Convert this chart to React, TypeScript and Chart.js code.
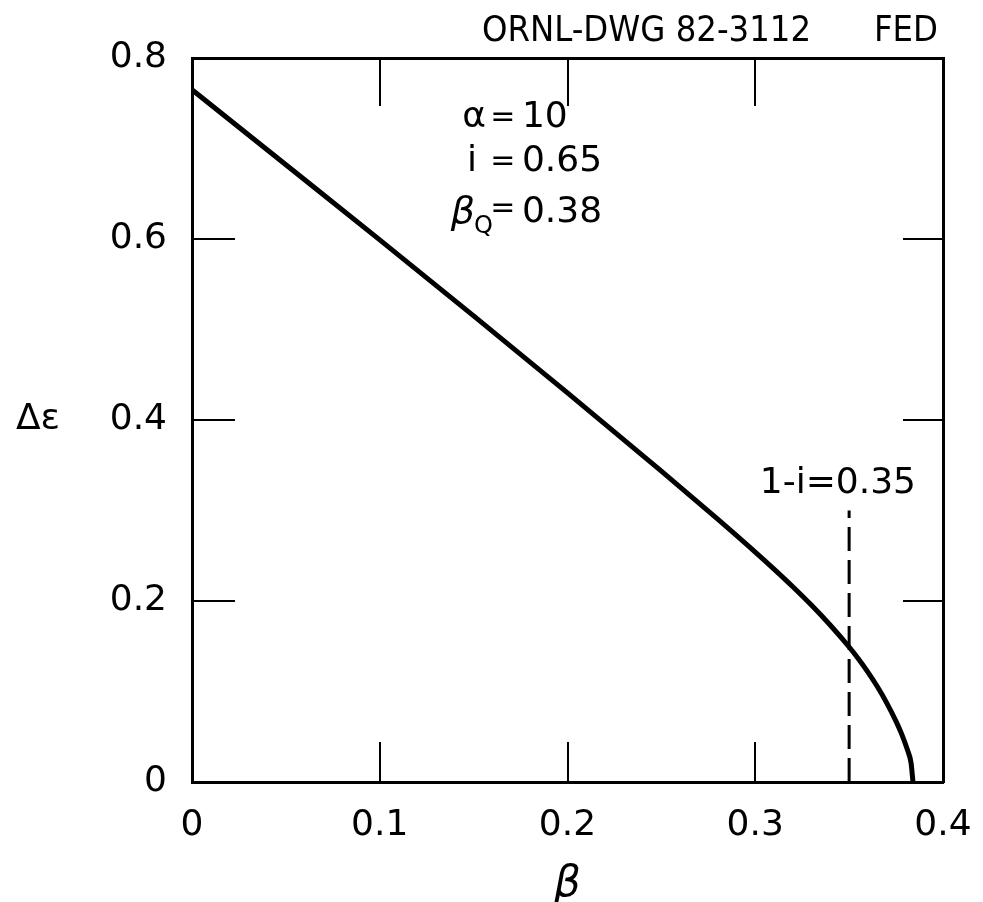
import { useEffect, useRef } from "react";
import { Chart, registerables } from "chart.js";

Chart.register(...registerables);

// ---- data ----
const betaValues = [0, 0.05, 0.1, 0.15, 0.2, 0.25, 0.28, 0.3, 0.31, 0.32, 0.33, 0.34, 0.35, 0.355, 0.36, 0.365, 0.37, 0.375, 0.378, 0.381, 0.383, 0.384];
const deltaEpsValues = [0.765, 0.682, 0.599, 0.515, 0.43, 0.3435, 0.2904, 0.254, 0.2352, 0.2157, 0.1952, 0.1732, 0.1492, 0.136, 0.1215, 0.1055, 0.0875, 0.067, 0.0529, 0.0358, 0.0208, 0];

const markerBeta = [0.35, 0.35];
const markerDeltaEps = [0, 0.3];
const markerLabel = "1-i=0.35";
const markerLabelPos = [0.344, 0.33];

const xTickValues = [0, 0.1, 0.2, 0.3, 0.4];
const xTickLabels = ["0", "0.1", "0.2", "0.3", "0.4"];
const yTickValues = [0, 0.2, 0.4, 0.6, 0.8];
const yTickLabels = ["0", "0.2", "0.4", "0.6", "0.8"];

const paramNames = ["α", "i", "β"];
const paramSubs = ["", "", "Q"];
const paramValues = ["10", "0.65", "0.38"];
const paramRowDeltaEps = [0.734, 0.685, 0.629];
const paramEqualsBeta = 0.1656;

const xTitle = "β";
const yTitle = "Δε";
const drawingNumber = "ORNL-DWG 82-3112";
const drawingTag = "FED";

const FONT = '"DejaVu Sans"';

const textPlugin = {
  id: "textAnnotations",
  afterDraw(chart: any) {
    const { ctx, chartArea } = chart;
    const x = chart.scales.x;
    const y = chart.scales.y;
    ctx.save();
    ctx.fillStyle = "#000";
    ctx.textBaseline = "middle";

    // parameter block
    const eqX = x.getPixelForValue(paramEqualsBeta);
    paramNames.forEach((name, i) => {
      const py = y.getPixelForValue(paramRowDeltaEps[i]);
      ctx.font = `30px ${FONT}`;
      ctx.textAlign = "center";
      ctx.fillText("=", eqX, py + (paramSubs[i] ? -4 : 0));
      ctx.font = `36px ${FONT}`;
      ctx.textAlign = "left";
      ctx.fillText(paramValues[i], eqX + 19, py);
      if (paramSubs[i]) {
        ctx.font = `24px ${FONT}`;
        ctx.textAlign = "right";
        const subRight = eqX - 10;
        ctx.fillText(paramSubs[i], subRight, py + 14);
        const subW = ctx.measureText(paramSubs[i]).width;
        ctx.font = `italic 38px ${FONT}`;
        ctx.fillText(name, subRight - subW + 1, py);
      } else {
        ctx.textAlign = "right";
        ctx.font = `36px ${FONT}`;
        ctx.fillText(name, eqX - (name === "i" ? 26 : 17), py);
      }
    });

    // marker label
    ctx.font = `36px ${FONT}`;
    ctx.textAlign = "center";
    ctx.fillText(markerLabel, x.getPixelForValue(markerLabelPos[0]), y.getPixelForValue(markerLabelPos[1]));

    // y-axis title (horizontal)
    ctx.fillText(yTitle, 38, (chartArea.top + chartArea.bottom) / 2);

    // drawing number
    ctx.font = `36px "DejaVu Sans Condensed", ${FONT}`;
    ctx.textAlign = "right";
    ctx.fillText(drawingNumber, chartArea.right - 132, chartArea.top - 26);
    ctx.fillText(drawingTag, chartArea.right - 5, chartArea.top - 26);
    ctx.restore();
  },
};

function noPad(s: any) {
  s.paddingLeft = 0;
  s.paddingRight = 0;
  s.paddingTop = 0;
  s.paddingBottom = 0;
}

export default function App() {
  const canvasRef = useRef<HTMLCanvasElement | null>(null);

  useEffect(() => {
    document.body.style.margin = "0";
    const canvas = canvasRef.current;
    if (!canvas) return;
    Chart.defaults.font.family = FONT;
    const curve = betaValues.map((b, i) => ({ x: b, y: deltaEpsValues[i] }));
    const marker = markerBeta.map((b, i) => ({ x: b, y: markerDeltaEps[i] }));

    const tickFont = { size: 36, family: FONT };
    const chart = new Chart(canvas, {
      type: "line",
      data: {
        datasets: [
          {
            data: curve,
            borderColor: "#000",
            borderWidth: 5,
            pointRadius: 0,
            cubicInterpolationMode: "monotone",
            fill: false,
            xAxisID: "x",
            yAxisID: "y",
          },
          {
            data: marker,
            borderColor: "#000",
            borderWidth: 3,
            borderDash: [24, 9],
            pointRadius: 0,
            fill: false,
            xAxisID: "x",
            yAxisID: "y",
          },
        ],
      },
      options: {
        responsive: false,
        animation: false,
        events: [],
        layout: { padding: 0 },
        plugins: { legend: { display: false }, tooltip: { enabled: false } },
        scales: {
          x: {
            type: "linear",
            position: "bottom",
            min: 0,
            max: 0.4,
            afterBuildTicks: (s: any) => {
              s.ticks = xTickValues.map((v) => ({ value: v }));
            },
            afterFit: (s: any) => {
              s.height = 120;
              noPad(s);
            },
            grid: { drawOnChartArea: false, drawTicks: true, tickLength: -40, color: "#000", lineWidth: 2 },
            border: { display: true, color: "#000", width: 3 },
            ticks: {
              padding: 62,
              color: "#000",
              font: tickFont,
              autoSkip: false,
              maxRotation: 0,
              callback: (_v: any, i: number) => xTickLabels[i],
            },
            title: {
              display: true,
              text: xTitle,
              color: "#000",
              font: { size: 42, style: "italic", family: FONT, lineHeight: 0.8 },
              padding: { top: 0, bottom: 0 },
            },
          },
          x2: {
            type: "linear",
            position: "top",
            min: 0,
            max: 0.4,
            afterBuildTicks: (s: any) => {
              s.ticks = xTickValues.map((v) => ({ value: v }));
            },
            afterFit: (s: any) => {
              s.height = 58;
              noPad(s);
            },
            grid: { drawOnChartArea: false, drawTicks: true, tickLength: -48, color: "#000", lineWidth: 2 },
            border: { display: true, color: "#000", width: 3 },
            ticks: { display: false },
          },
          y: {
            type: "linear",
            position: "left",
            min: 0,
            max: 0.8,
            afterBuildTicks: (s: any) => {
              s.ticks = yTickValues.map((v) => ({ value: v }));
            },
            afterFit: (s: any) => {
              s.width = 192;
              noPad(s);
            },
            grid: { drawOnChartArea: false, drawTicks: true, tickLength: -43, color: "#000", lineWidth: 2 },
            border: { display: true, color: "#000", width: 3 },
            ticks: {
              padding: 68,
              color: "#000",
              font: tickFont,
              autoSkip: false,
              callback: (_v: any, i: number) => yTickLabels[i],
            },
          },
          y2: {
            type: "linear",
            position: "right",
            min: 0,
            max: 0.8,
            afterBuildTicks: (s: any) => {
              s.ticks = yTickValues.map((v) => ({ value: v }));
            },
            afterFit: (s: any) => {
              s.width = 40;
              noPad(s);
            },
            grid: { drawOnChartArea: false, drawTicks: true, tickLength: -40, color: "#000", lineWidth: 2 },
            border: { display: true, color: "#000", width: 3 },
            ticks: { display: false },
          },
        },
      },
      plugins: [textPlugin],
    } as any);
    return () => chart.destroy();
  }, []);

  return (
    <div style={{ position: "absolute", left: 0, top: 0, width: 983, height: 902, background: "#fff" }}>
      <canvas ref={canvasRef} width={983} height={902} />
    </div>
  );
}
